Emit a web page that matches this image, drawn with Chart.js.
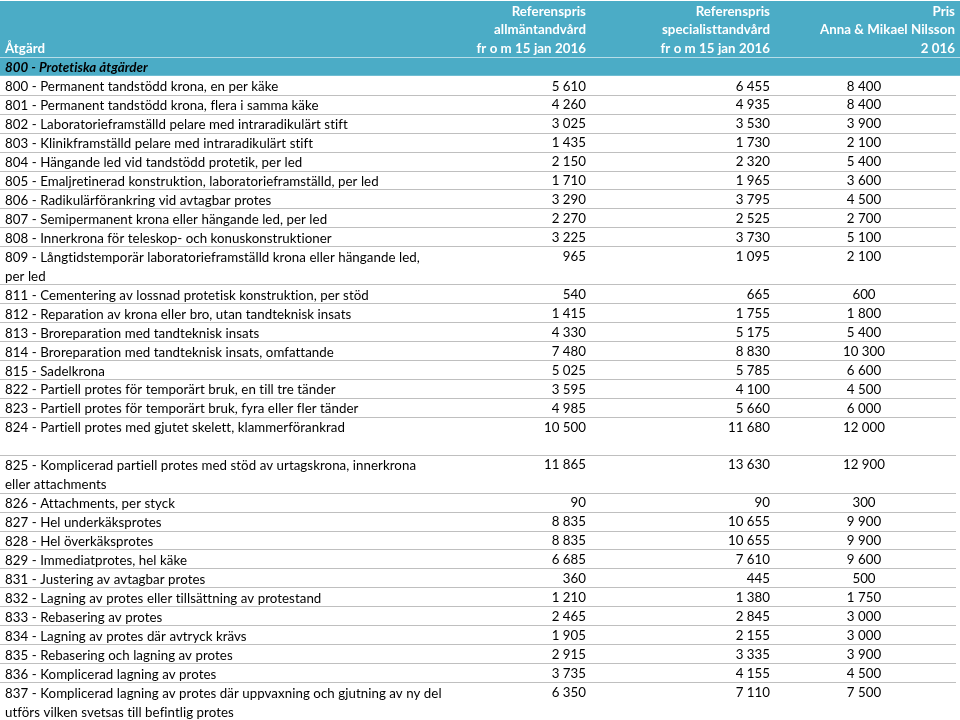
<!DOCTYPE html>
<html>
<head>
    <meta charset="utf-8">
    <script src="https://cdn.jsdelivr.net/npm/chart.js"></script>
    <style>
        body {
            margin: 0;
            background-color: white;
        }
    </style>
</head>
<body>
    <canvas id="priceChart" width="960" height="720"></canvas>

    <script>
        // Table data
        const headerCols = [
            ["Referenspris", "allmäntandvård", "fr o m 15 jan 2016"],
            ["Referenspris", "specialisttandvård", "fr o m 15 jan 2016"],
            ["Pris", "Anna & Mikael Nilsson", "2 016"]
        ];
        const groupTitle = "800 - Protetiska åtgärder";
        const rowLabels = [
            "800 - Permanent tandstödd krona, en per käke",
            "801 - Permanent tandstödd krona, flera i samma käke",
            "802 - Laboratorieframställd pelare med intraradikulärt stift",
            "803 - Klinikframställd pelare med intraradikulärt stift",
            "804 - Hängande led vid tandstödd protetik, per led",
            "805 - Emaljretinerad konstruktion, laboratorieframställd, per led",
            "806 - Radikulärförankring vid avtagbar protes",
            "807 - Semipermanent krona eller hängande led, per led",
            "808 - Innerkrona för teleskop- och konuskonstruktioner",
            ["809 - Långtidstemporär laboratorieframställd krona eller hängande led,", "per led"],
            "811 - Cementering av lossnad protetisk konstruktion, per stöd",
            "812 - Reparation av krona eller bro, utan tandteknisk insats",
            "813 - Broreparation med tandteknisk insats",
            "814 - Broreparation med tandteknisk insats, omfattande",
            "815 - Sadelkrona",
            "822 - Partiell protes för temporärt bruk, en till tre tänder",
            "823 - Partiell protes för temporärt bruk, fyra eller fler tänder",
            "824 - Partiell protes med gjutet skelett, klammerförankrad",
            ["825 - Komplicerad partiell protes med stöd av urtagskrona, innerkrona", "eller attachments"],
            "826 - Attachments, per styck",
            "827 - Hel underkäksprotes",
            "828 - Hel överkäksprotes",
            "829 - Immediatprotes, hel käke",
            "831 - Justering av avtagbar protes",
            "832 - Lagning av protes eller tillsättning av protestand",
            "833 - Rebasering av protes",
            "834 - Lagning av protes där avtryck krävs",
            "835 - Rebasering och lagning av protes",
            "836 - Komplicerad lagning av protes",
            ["837 - Komplicerad lagning av protes där uppvaxning och gjutning av ny del", "utförs vilken svetsas till befintlig protes"]
        ];
        // how many text lines each row takes
        const rowSpan = [1, 1, 1, 1, 1, 1, 1, 1, 1, 2, 1, 1, 1, 1, 1, 1, 1, 2, 2, 1, 1, 1, 1, 1, 1, 1, 1, 1, 1, 2];
        const allmanPris = [5610, 4260, 3025, 1435, 2150, 1710, 3290, 2270, 3225, 965, 540, 1415, 4330, 7480, 5025, 3595, 4985, 10500, 11865, 90, 8835, 8835, 6685, 360, 1210, 2465, 1905, 2915, 3735, 6350];
        const specialistPris = [6455, 4935, 3530, 1730, 2320, 1965, 3795, 2525, 3730, 1095, 665, 1755, 5175, 8830, 5785, 4100, 5660, 11680, 13630, 90, 10655, 10655, 7610, 445, 1380, 2845, 2155, 3335, 4155, 7110];
        const klinikPris = [8400, 8400, 3900, 2100, 5400, 3600, 4500, 2700, 5100, 2100, 600, 1800, 5400, 10300, 6600, 4500, 6000, 12000, 12900, 300, 9900, 9900, 9600, 500, 1750, 3000, 3000, 3900, 4500, 7500];

        // layout
        const headerLines = 3;
        const firstRowLine = headerLines + 1;
        const totalLines = firstRowLine + rowSpan.reduce((a, b) => a + b, 0);
        const colX = [5, 586, 770, 864];
        const colAlign = ["left", "right", "right", "center"];
        const headerRight = [586, 770, 955];
        const tableRight = 956;
        const FONT = "Lato, 'Open Sans', sans-serif";
        const FONT_SIZE = 13.3;

        let rowStart = [];
        let line = firstRowLine;
        rowSpan.forEach(n => {
            rowStart.push(line);
            line += n;
        });

        function formatNumber(v) {
            return String(v).replace(/\B(?=(\d{3})+(?!\d))/g, " ");
        }

        const tablePlugin = {
            id: "tableText",
            beforeDatasetsDraw(chart) {
                const ctx = chart.ctx;
                const x = chart.scales.x;
                const y = chart.scales.y;
                ctx.save();
                ctx.letterSpacing = "0.05px"; // keeps "ti" from turning into a ligature
                // header band
                ctx.fillStyle = "#4bacc6";
                ctx.fillRect(x.getPixelForValue(0), y.getPixelForValue(0) + 1, x.getPixelForValue(960), y.getPixelForValue(firstRowLine) - 1);
                ctx.strokeStyle = "#b7dde8";
                ctx.lineWidth = 1;
                ctx.beginPath();
                ctx.moveTo(0, Math.round(y.getPixelForValue(headerLines)) + 0.5);
                ctx.lineTo(960, Math.round(y.getPixelForValue(headerLines)) + 0.5);
                ctx.stroke();

                // row separators
                ctx.strokeStyle = "#bfbfbf";
                rowStart.forEach((s, i) => {
                    const py = Math.round(y.getPixelForValue(s + rowSpan[i])) + 0.5;
                    ctx.beginPath();
                    ctx.moveTo(0, py);
                    ctx.lineTo(tableRight, py);
                    ctx.stroke();
                });

                // header text
                const baseOff = 15.5;
                ctx.fillStyle = "#ffffff";
                ctx.font = "bold " + FONT_SIZE + "px " + FONT;
                ctx.textBaseline = "alphabetic";
                ctx.textAlign = "left";
                ctx.fillText("Åtgärd", colX[0], y.getPixelForValue(2) + baseOff);
                ctx.textAlign = "right";
                headerCols.forEach((lines, c) => {
                    lines.forEach((t, k) => {
                        ctx.fillText(t, headerRight[c], y.getPixelForValue(k) + baseOff);
                    });
                });
                ctx.fillStyle = "#000000";
                ctx.font = "italic bold " + FONT_SIZE + "px " + FONT;
                ctx.textAlign = "left";
                ctx.fillText(groupTitle, colX[0], y.getPixelForValue(headerLines) + baseOff);

                // row labels
                ctx.font = FONT_SIZE + "px " + FONT;
                rowLabels.forEach((lab, i) => {
                    const lines = Array.isArray(lab) ? lab : [lab];
                    lines.forEach((t, k) => {
                        ctx.fillText(t, colX[0], y.getPixelForValue(rowStart[i] + k) + baseOff);
                    });
                });
                ctx.restore();
            },
            afterDatasetsDraw(chart) {
                const ctx = chart.ctx;
                ctx.save();
                ctx.fillStyle = "#000000";
                ctx.font = FONT_SIZE + "px " + FONT;
                ctx.textBaseline = "middle";
                chart.data.datasets.forEach((ds, d) => {
                    const meta = chart.getDatasetMeta(d);
                    ctx.textAlign = colAlign[d + 1];
                    meta.data.forEach((pt, i) => {
                        ctx.fillText(formatNumber(ds.values[i]), pt.x, pt.y + 1);
                    });
                });
                ctx.restore();
            }
        };

        function columnData(values, c) {
            return values.map((v, i) => ({ x: colX[c], y: rowStart[i] + 0.5 }));
        }

        new Chart(document.getElementById("priceChart"), {
            type: "scatter",
            data: {
                datasets: [
                    { label: "Referenspris allmäntandvård", data: columnData(allmanPris, 1), values: allmanPris, pointRadius: 0 },
                    { label: "Referenspris specialisttandvård", data: columnData(specialistPris, 2), values: specialistPris, pointRadius: 0 },
                    { label: "Pris Anna & Mikael Nilsson", data: columnData(klinikPris, 3), values: klinikPris, pointRadius: 0 }
                ]
            },
            options: {
                responsive: false,
                animation: false,
                devicePixelRatio: 1,
                layout: { padding: 0 },
                plugins: { legend: { display: false }, tooltip: { enabled: false } },
                scales: {
                    x: { type: "linear", min: 0, max: 960, display: false },
                    y: { type: "linear", min: 0, max: totalLines, reverse: true, display: false }
                }
            },
            plugins: [tablePlugin]
        });
    </script>
</body>
</html>
